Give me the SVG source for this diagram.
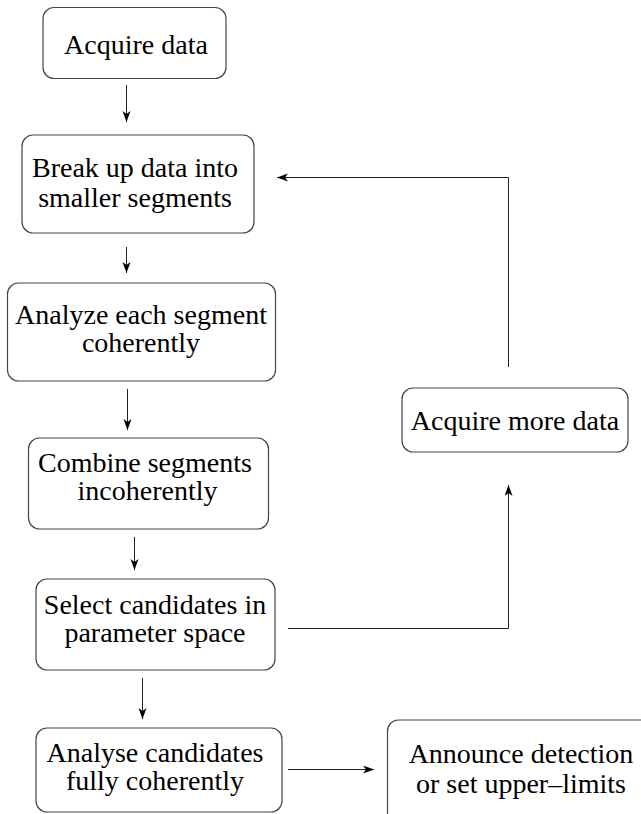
<svg xmlns="http://www.w3.org/2000/svg" width="641" height="814" viewBox="0 0 641 814">
<style>
.box{fill:#fff;stroke:#444;stroke-width:1.2}
text{font-family:'Liberation Serif','Times New Roman',serif;font-size:28px;fill:#000;text-anchor:middle}
.c{fill:none;stroke:#222;stroke-width:1}
</style>
<defs>
<marker id="ah" markerUnits="userSpaceOnUse" markerWidth="12" markerHeight="9" refX="11" refY="4" orient="auto">
<path d="M0,0 L11,4 L0,8 L3,4 Z" fill="#000"/>
</marker>
</defs>
<rect width="641" height="814" fill="#fff"/>
<g id="connectors">
<line class="c" x1="126.5" y1="85" x2="126.5" y2="122" marker-end="url(#ah)"/>
<line class="c" x1="126.5" y1="247" x2="126.5" y2="273" marker-end="url(#ah)"/>
<line class="c" x1="127.5" y1="389" x2="127.5" y2="430" marker-end="url(#ah)"/>
<line class="c" x1="134.5" y1="537" x2="134.5" y2="570" marker-end="url(#ah)"/>
<line class="c" x1="142.5" y1="678" x2="142.5" y2="719" marker-end="url(#ah)"/>
<line class="c" x1="288" y1="769.5" x2="374" y2="769.5" marker-end="url(#ah)"/>
<polyline class="c" points="288,628.5 508.5,628.5 508.5,485" marker-end="url(#ah)"/>
<polyline class="c" points="508.5,367 508.5,177.5 277,177.5" marker-end="url(#ah)"/>
</g>
<g id="n1"><rect class="box" x="43" y="7.5" width="183" height="71" rx="11"/><text x="136" y="54">Acquire data</text></g>
<g id="n2"><rect class="box" x="22" y="135" width="232" height="98" rx="11"/><text x="135" y="177">Break up data into</text><text x="135" y="207">smaller segments</text></g>
<g id="n3"><rect class="box" x="7.5" y="283" width="268" height="98" rx="11"/><text x="141" y="324">Analyze each segment</text><text x="141" y="352">coherently</text></g>
<g id="n4"><rect class="box" x="28.5" y="438" width="240" height="91" rx="11"/><text x="145" y="472">Combine segments</text><text x="147.5" y="500">incoherently</text></g>
<g id="n5"><rect class="box" x="36" y="579" width="239" height="91" rx="11"/><text x="155" y="614">Select candidates in</text><text x="155" y="642">parameter space</text></g>
<g id="n6"><rect class="box" x="36" y="728" width="246" height="84" rx="11"/><text x="155" y="762">Analyse candidates</text><text x="155" y="790">fully coherently</text></g>
<g id="n7"><rect class="box" x="402" y="388" width="226" height="64" rx="11"/><text x="515" y="430">Acquire more data</text></g>
<g id="n8"><rect class="box" x="387.5" y="720" width="270" height="110" rx="11"/><text x="521" y="763">Announce detection</text><text x="521" y="793">or set upper–limits</text></g>
</svg>
